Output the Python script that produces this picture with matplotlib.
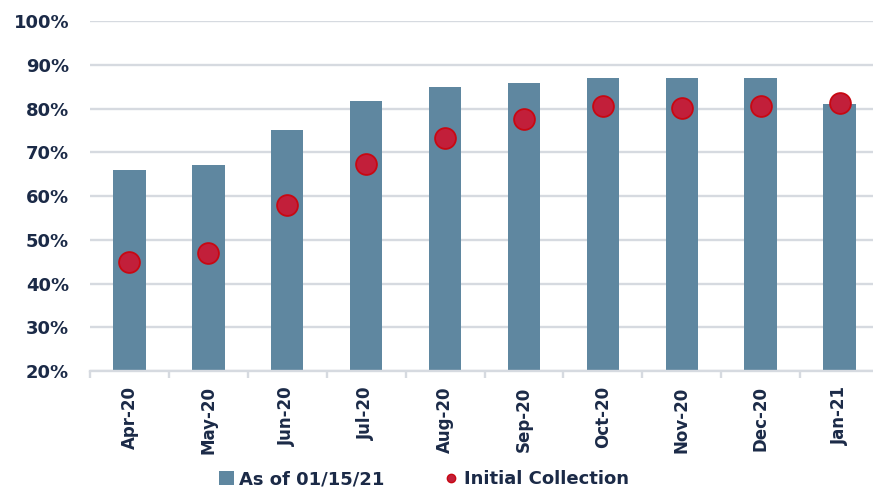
import matplotlib
matplotlib.use('Agg')
import matplotlib.pyplot as plt
from matplotlib.patches import Patch
from matplotlib.lines import Line2D
from matplotlib.ticker import FixedLocator, PercentFormatter

BAR_COLOR = '#5F87A0'
DOT_FACE = '#C21F3A'
DOT_EDGE = '#C80812'
TEXT_COLOR = '#1B2A47'
GRID_COLOR = '#D6DAE0'

months = ['Apr-20', 'May-20', 'Jun-20', 'Jul-20', 'Aug-20',
          'Sep-20', 'Oct-20', 'Nov-20', 'Dec-20', 'Jan-21']
as_of_latest = [66, 67, 75, 81.7, 85, 85.8, 87, 87, 87, 81]
initial_collection = [45, 47, 58, 67.3, 73.2, 77.6, 80.5, 80.1, 80.5, 81.3]

fig = plt.figure(figsize=(8.73, 4.91), dpi=100)
ax = fig.add_axes([0.1031, 0.2444, 0.9038, 0.7128])

x = range(len(months))
ax.bar(x, as_of_latest, width=0.41, color=BAR_COLOR, zorder=2)
ax.plot(x, initial_collection, linestyle='none', marker='o', markersize=15,
        markerfacecolor=DOT_FACE, markeredgecolor=DOT_EDGE, markeredgewidth=1.3,
        zorder=3)

ax.set_xlim(-0.5, len(months) - 0.5)
ax.set_ylim(20, 100)
ax.set_yticks(range(20, 101, 10))
ax.yaxis.set_major_formatter(PercentFormatter(decimals=0))
ax.grid(axis='y', color=GRID_COLOR, linewidth=1.7, zorder=0)
ax.set_axisbelow(True)

for side in ['top', 'right', 'left']:
    ax.spines[side].set_visible(False)
ax.spines['bottom'].set_color(GRID_COLOR)
ax.spines['bottom'].set_linewidth(1.7)

ax.set_xticks(list(x))
ax.set_xticklabels(months, rotation=90, fontsize=12, fontweight='bold',
                   color=TEXT_COLOR)
ax.xaxis.set_minor_locator(FixedLocator([i - 0.5 for i in range(len(months) + 1)]))
ax.tick_params(axis='x', which='major', length=0, pad=11)
ax.tick_params(axis='x', which='minor', length=5, width=1.7, color=GRID_COLOR)
ax.tick_params(axis='y', length=0, pad=15, labelsize=13, labelcolor=TEXT_COLOR)
for lbl in ax.get_yticklabels():
    lbl.set_fontweight('bold')

handles = [
    Patch(facecolor=BAR_COLOR, edgecolor='none'),
    Line2D([], [], linestyle='none', marker='o', markersize=6,
           markerfacecolor=DOT_FACE, markeredgecolor=DOT_EDGE),
]
fig.legend(handles, ['As of 01/15/21', 'Initial Collection'], loc='lower center',
           bbox_to_anchor=(0.486, -0.028), ncol=2, frameon=False,
           prop={'size': 13, 'weight': 'bold'}, labelcolor=TEXT_COLOR,
           handlelength=0.8, handleheight=0.8, handletextpad=0.3,
           columnspacing=3.3)

fig.savefig('out.png', dpi=100)
